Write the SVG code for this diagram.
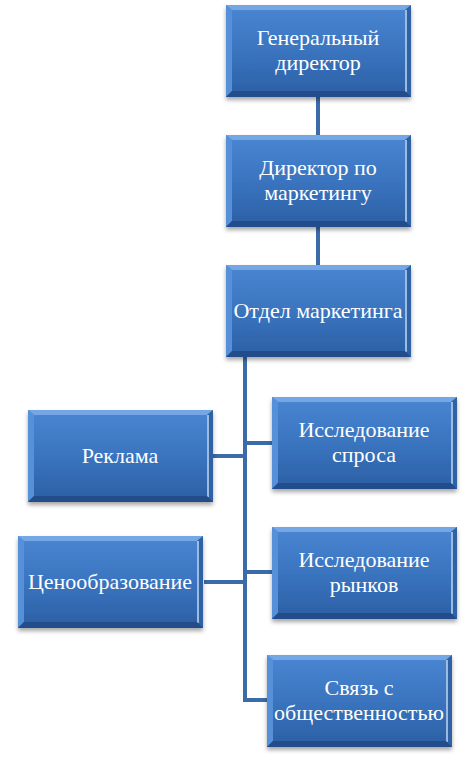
<svg xmlns="http://www.w3.org/2000/svg" xmlns:xlink="http://www.w3.org/1999/xlink" width="474" height="779" viewBox="0 0 474 779">
<defs>
<linearGradient id="face" x1="0" y1="0" x2="0" y2="1">
<stop offset="0" stop-color="#4a86d2"/>
<stop offset="0.5" stop-color="#3a74bf"/>
<stop offset="1" stop-color="#2b5fa4"/>
</linearGradient>
<filter id="sh" x="-10%" y="-10%" width="120%" height="130%">
<feDropShadow dx="0" dy="3" stdDeviation="2" flood-color="#000" flood-opacity="0.35"/>
</filter>
<symbol id="box" viewBox="0 0 185 92" width="185" height="92">
<rect x="0" y="0" width="185" height="92" fill="url(#face)"/>
<polygon points="0,0 185,0 179,5 6,5" fill="#74a7e4"/>
<polygon points="0,0 6,5 6,86 0,92" fill="#5590d8"/>
<polygon points="185,0 179,5 179,86 185,92" fill="#2f62a4"/>
<line x1="180" y1="5" x2="180" y2="87" stroke="#c2daf6" stroke-width="1.5"/>
<polygon points="0,92 6,86 179,86 185,92" fill="#224e8a"/>
</symbol>
</defs>
<style>
.conn{fill:none;stroke:#3b6ba8;stroke-width:4}
.node use{filter:url(#sh)}
.lbl{font-family:'Liberation Serif',serif;font-size:24px;fill:#ffffff;text-anchor:middle}
</style>
<rect width="474" height="779" fill="#ffffff"/>
<g id="connectors">
<line class="conn" x1="318" y1="97" x2="318" y2="135"/>
<line class="conn" x1="318" y1="227" x2="318" y2="265"/>
<path class="conn" d="M245 357 V700 H267"/>
<line class="conn" x1="245" y1="443" x2="272" y2="443"/>
<line class="conn" x1="212" y1="456" x2="245" y2="456"/>
<line class="conn" x1="245" y1="572" x2="272" y2="572"/>
<line class="conn" x1="204" y1="582" x2="245" y2="582"/>
</g>
<g id="n1" class="node">
<use xlink:href="#box" x="226" y="5"/>
<text class="lbl" font-family="Liberation Serif" transform="translate(318 45) scale(0.9167)">Генеральный</text>
<text class="lbl" font-family="Liberation Serif" transform="translate(318 70) scale(0.9167)">директор</text>
</g>
<g id="n2" class="node">
<use xlink:href="#box" x="226" y="135"/>
<text class="lbl" font-family="Liberation Serif" transform="translate(318 175) scale(0.9167)">Директор по</text>
<text class="lbl" font-family="Liberation Serif" transform="translate(318 200) scale(0.9167)">маркетингу</text>
</g>
<g id="n3" class="node">
<use xlink:href="#box" x="226" y="265"/>
<text class="lbl" font-family="Liberation Serif" transform="translate(318 318) scale(0.9167)">Отдел маркетинга</text>
</g>
<g id="n4" class="node">
<use xlink:href="#box" x="272" y="397"/>
<text class="lbl" font-family="Liberation Serif" transform="translate(364 437) scale(0.9167)">Исследование</text>
<text class="lbl" font-family="Liberation Serif" transform="translate(364 462) scale(0.9167)">спроса</text>
</g>
<g id="n5" class="node">
<use xlink:href="#box" x="272" y="527"/>
<text class="lbl" font-family="Liberation Serif" transform="translate(364 567) scale(0.9167)">Исследование</text>
<text class="lbl" font-family="Liberation Serif" transform="translate(364 592) scale(0.9167)">рынков</text>
</g>
<g id="n6" class="node">
<use xlink:href="#box" x="267" y="655"/>
<text class="lbl" font-family="Liberation Serif" transform="translate(359 695) scale(0.9167)">Связь с</text>
<text class="lbl" font-family="Liberation Serif" transform="translate(359 720) scale(0.9167)">общественностью</text>
</g>
<g id="n7" class="node">
<use xlink:href="#box" x="28" y="410"/>
<text class="lbl" font-family="Liberation Serif" transform="translate(120 463) scale(0.9167)">Реклама</text>
</g>
<g id="n8" class="node">
<use xlink:href="#box" x="18" y="536"/>
<text class="lbl" font-family="Liberation Serif" transform="translate(110 589) scale(0.9167)">Ценообразование</text>
</g>
</svg>
